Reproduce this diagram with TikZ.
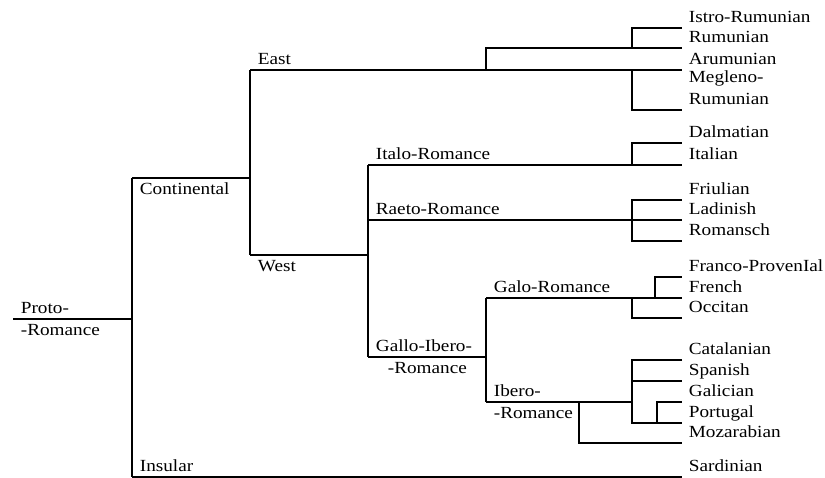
\documentclass[tikz,border=0pt]{standalone}
\usepackage{fontspec}
\setmainfont{Liberation Serif}[FakeStretch=1.13]
\usetikzlibrary{positioning,calc}
\tikzstyle{leaf} = [anchor=south west, inner xsep=6pt, inner ysep=5pt, text depth=0pt, align=left]
\tikzstyle{up} = [anchor=south west, inner xsep=7pt, inner ysep=5pt, text depth=0pt, align=left]
\tikzstyle{down} = [anchor=north west, inner xsep=7pt, inner ysep=4pt, text height=11.5pt, align=left]

\begin{document}
\begin{tikzpicture}[x=1pt, y=-1pt, line width=1.8pt, font=\fontsize{17}{21.5}\selectfont]
    \useasboundingbox (0,0) rectangle (825,478);

    % leaves
    \node [leaf] (istro)      at (682,28)  {Istro-Rumunian};
    \node [leaf] (rumunian)   at (682,48)  {Rumunian};
    \node [leaf] (arumunian)  at (682,70)  {Arumunian};
    \node [leaf] (megleno)    at (682,110) {Megleno-\\Rumunian};
    \node [leaf] (dalmatian)  at (682,143) {Dalmatian};
    \node [leaf] (italian)    at (682,165) {Italian};
    \node [leaf] (friulian)   at (682,200) {Friulian};
    \node [leaf] (ladinish)   at (682,220) {Ladinish};
    \node [leaf] (romansch)   at (682,241) {Romansch};
    \node [leaf] (franco)     at (682,277) {Franco-ProvenIal};
    \node [leaf] (french)     at (682,298) {French};
    \node [leaf] (occitan)    at (682,318) {Occitan};
    \node [leaf] (catalanian) at (682,360) {Catalanian};
    \node [leaf] (spanish)    at (682,381) {Spanish};
    \node [leaf] (galician)   at (682,402) {Galician};
    \node [leaf] (portugal)   at (682,423) {Portugal};
    \node [leaf] (mozarabian) at (682,443) {Mozarabian};
    \node [leaf] (sardinian)  at (682,477) {Sardinian};

    % branches
    \node [up]   (protoa)      at (13,319)  {Proto-};
    \node [down] (protob)      at (13,319)  {-Romance};
    \node [down] (continental) at (132,178) {Continental};
    \node [up]   (insular)     at (132,477) {Insular};
    \node [up]   (east)        at (250,70)  {East};
    \node [down] (west)        at (250,255) {West};
    \node [up]   (italo)       at (368,165) {Italo-Romance};
    \node [up]   (raeto)       at (368,220) {Raeto-Romance};
    \node [up]   (galloa)      at (368,357) {Gallo-Ibero-};
    \node [down, xshift=12pt] (gallob) at (368,357) {-Romance};
    \node [up]   (galo)        at (486,298) {Galo-Romance};
    \node [up]   (iberoa)      at (486,402) {Ibero-};
    \node [down] (iberob)      at (486,402) {-Romance};

    \coordinate (r)  at (132,319);
    \coordinate (c)  at (250,178);
    \coordinate (e2) at (486,70);
    \coordinate (e3) at (632,48);
    \coordinate (e4) at (632,70);
    \coordinate (w)  at (368,255);
    \coordinate (i1) at (632,165);
    \coordinate (r1) at (632,220);
    \coordinate (g)  at (486,357);
    \coordinate (g1) at (632,298);
    \coordinate (g2) at (655,298);
    \coordinate (b)  at (632,402);
    \coordinate (b1) at (657,423);
    \coordinate (b2) at (579,402);

    \draw (protoa.south west) -- (r);
    \draw (continental.north west) -- (insular.south west);
    \draw (continental.north west) -- (c);
    \draw (insular.south west) -- (sardinian.south west);

    \draw (east.south west) -- (west.north west);
    \draw (east.south west) -- (arumunian.south west);
    \draw (e2) |- (rumunian.south west);
    \draw (e3) |- (istro.south west);
    \draw (e4) |- (megleno.south west);

    \draw (west.north west) -- (w);
    \draw (italo.south west) -- (galloa.south west);
    \draw (italo.south west) -- (italian.south west);
    \draw (i1) |- (dalmatian.south west);
    \draw (raeto.south west) -- (ladinish.south west);
    \draw (r1) |- (friulian.south west);
    \draw (r1) |- (romansch.south west);

    \draw (galloa.south west) -- (g);
    \draw (galo.south west) -- (iberoa.south west);
    \draw (galo.south west) -- (french.south west);
    \draw (g2) |- (franco.south west);
    \draw (g1) |- (occitan.south west);

    \draw (iberoa.south west) -- (b);
    \draw (catalanian.south west) -| (b) |- (portugal.south west);
    \draw (b) |- (spanish.south west);
    \draw (b1) |- (galician.south west);
    \draw (b2) |- (mozarabian.south west);
\end{tikzpicture}
\end{document}
